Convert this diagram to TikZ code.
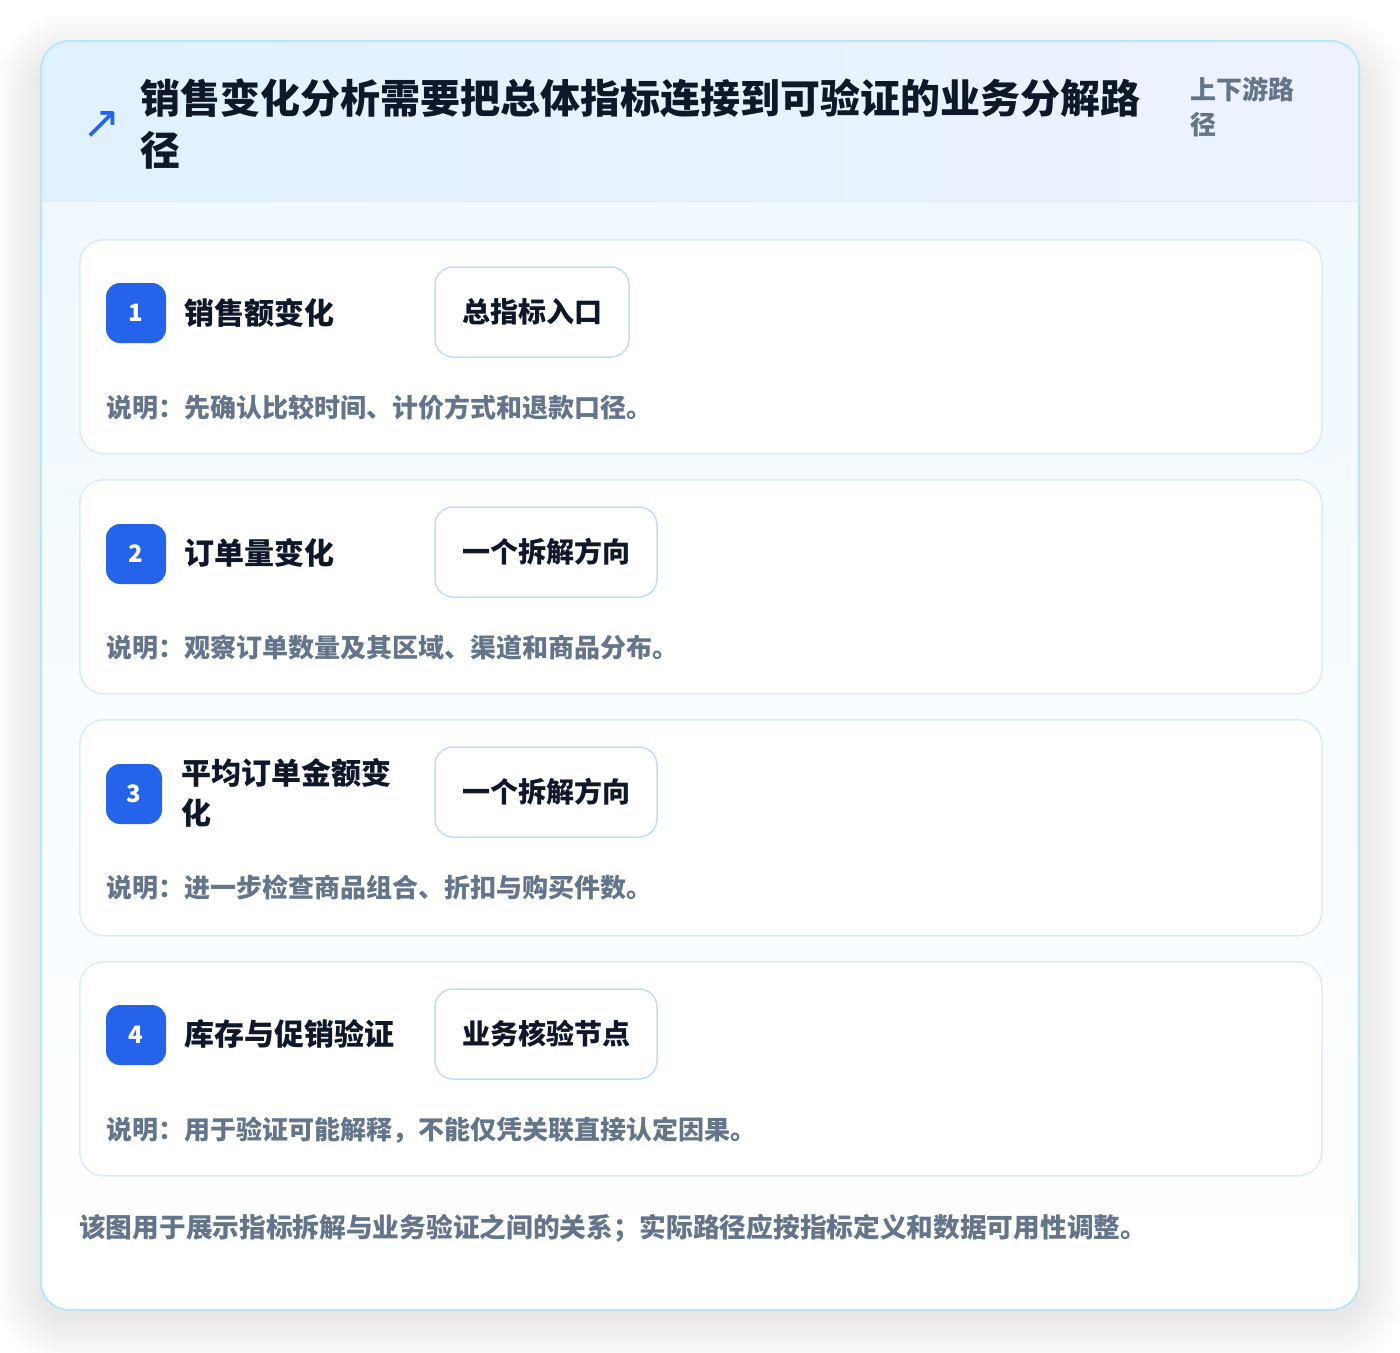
\documentclass[tikz,border=0pt]{standalone}
\usepackage{fontspec}
\setmainfont{Noto Sans CJK SC}
\newfontfamily\dejavu{DejaVu Sans}
\definecolor{ink}{HTML}{0F172A}
\definecolor{muted}{HTML}{64748B}
\definecolor{accent}{HTML}{2563EB}
\definecolor{cardb}{HTML}{DBEAFE}
\definecolor{tagb}{HTML}{BFDBFE}
\definecolor{outerb}{HTML}{BAE6FD}
\definecolor{hdrL}{HTML}{E0F2FE}
\definecolor{hdrR}{HTML}{EEF2FF}
\definecolor{hdrline}{HTML}{DBEAFE}
\definecolor{bodyT}{HTML}{F0F9FF}
\definecolor{shadowc}{HTML}{1E293B}
\tikzset{
  card/.style={draw=cardb, line width=1.5pt, fill=white, rounded corners=24pt,
    minimum width=1242pt, anchor=north west, inner sep=0pt},
  badge/.style={fill=accent, rounded corners=14pt, minimum width=60pt, minimum height=60pt,
    inner sep=0pt, text=white, font=\fontsize{24}{24}\selectfont\bfseries},
  steptitle/.style={anchor=base west, inner sep=0pt, text=ink, font=\fontsize{30}{30}\selectfont\bfseries},
  tagbox/.style={draw=tagb, line width=1.5pt, fill=white, rounded corners=18pt,
    minimum height=90pt, inner sep=0pt, text=ink, font=\fontsize{28}{28}\selectfont\bfseries},
  desc/.style={anchor=base west, inner sep=0pt, text=muted, font=\fontsize{26}{26}\selectfont\bfseries},
  titleline/.style={anchor=base west, inner sep=0pt, text=ink, font=\fontsize{40}{40}\selectfont\bfseries},
  sidelabel/.style={anchor=base west, inner sep=0pt, text=muted, font=\fontsize{26}{26}\selectfont\bfseries},
  shadowlayer/.style={fill=shadowc, fill opacity=#1},
}
\begin{document}
\begin{tikzpicture}[x=1pt,y=-1pt]
\useasboundingbox (0,0) rectangle (1400,1352);
\fill[white] (0,0) rectangle (1400,1352);
% soft shadow of the outer card
\foreach \i in {1,...,22}{
  \pgfmathsetmacro{\e}{2.2*\i}
  \fill[shadowlayer=0.0055, rounded corners=28pt+\e pt]
    (41-\e,61-\e) rectangle (1359+\e,1318+\e);
}
% outer card
\begin{scope}
  \clip[rounded corners=28pt] (41,41) rectangle (1359,1310);
  \fill[white] (41,41) rectangle (1359,1310);
  \shade[left color=hdrL, right color=hdrR] (41,41) rectangle (1359,201);
  \shade[top color=bodyT, bottom color=white] (41,201) rectangle (1359,1310);
  \draw[hdrline, line width=1.5pt] (41,201.5) -- (1359,201.5);
\end{scope}
\draw[outerb, line width=2pt, rounded corners=28pt] (41,41) rectangle (1359,1310);

% header
\node[text=accent, inner sep=0pt, font=\dejavu\fontsize{46}{46}\selectfont] (icon) at (102,125) {↗};
\node[titleline] (title1) at (140,113) {销售变化分析需要把总体指标连接到可验证的业务分解路};
\node[titleline] (title2) at (140,165) {径};
\node[sidelabel] (side1) at (1190,99) {上下游路};
\node[sidelabel] (side2) at (1190,134) {径};

% tag shadows
\foreach \cx/\cy/\w in {532/312/194, 546/552/222, 546/792/222, 546/1034/222}{
  \foreach \i in {1,...,8}{
    \pgfmathsetmacro{\e}{1.8*\i}
    \fill[shadowlayer=0.008, rounded corners=18pt+\e pt]
      (\cx-\w/2-\e,\cy-45+6-\e) rectangle (\cx+\w/2+\e,\cy+45+8+\e);
  }
}

% card 1
\node[card, minimum height=214pt] (c1) at (79,239) {};
\node[badge] (b1) at (136,313) {1};
\node[steptitle] (t1) at (184,324.5) {销售额变化};
\node[tagbox, minimum width=194pt] (g1) at (532,312) {总指标入口};
\node[desc] (d1) at (106,417) {说明：先确认比较时间、计价方式和退款口径。};

% card 2
\node[card, minimum height=214pt] (c2) at (79,479) {};
\node[badge] (b2) at (136,554) {2};
\node[steptitle] (t2) at (184,564.5) {订单量变化};
\node[tagbox, minimum width=222pt] (g2) at (546,552) {一个拆解方向};
\node[desc] (d2) at (106,657) {说明：观察订单数量及其区域、渠道和商品分布。};

% card 3
\node[card, minimum height=216pt] (c3) at (79,719) {};
\node[badge, minimum width=56pt] (b3) at (134,794) {3};
\node[steptitle] (t3a) at (181,784.5) {平均订单金额变};
\node[steptitle] (t3b) at (181,824.5) {化};
\node[tagbox, minimum width=222pt] (g3) at (546,792) {一个拆解方向};
\node[desc] (d3) at (106,897) {说明：进一步检查商品组合、折扣与购买件数。};

% card 4
\node[card, minimum height=214pt] (c4) at (79,961) {};
\node[badge] (b4) at (136,1035) {4};
\node[steptitle] (t4) at (184,1045.5) {库存与促销验证};
\node[tagbox, minimum width=222pt] (g4) at (546,1034) {业务核验节点};
\node[desc] (d4) at (106,1139) {说明：用于验证可能解释，不能仅凭关联直接认定因果。};

% footer
\node[anchor=base west, inner sep=0pt, text=muted, font=\fontsize{26.7}{26.7}\selectfont\bfseries] (foot) at (79,1237.5)
  {该图用于展示指标拆解与业务验证之间的关系；实际路径应按指标定义和数据可用性调整。};
\end{tikzpicture}
\end{document}
